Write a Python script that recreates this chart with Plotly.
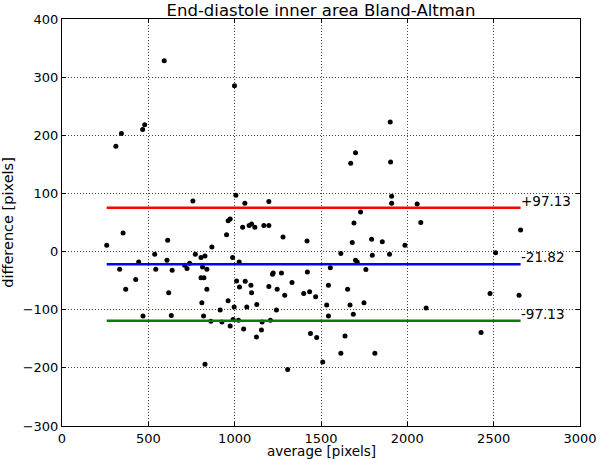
import plotly.graph_objects as go

# Averages (x) and differences (y)
avg = [592, 999, 344, 312, 479, 467, 1007, 1059, 1198, 758,
       1901, 1700, 1672, 1903, 1909, 1909, 2057, 1729, 1691, 2078,
       2656, 1681, 1793, 1855, 1986, 1615, 1797, 1897, 2511, 1700,
       1710, 1554, 1760, 1543, 1654, 2479, 2647, 1533, 1668, 1749,
       2109, 1543, 1687, 1639, 2427, 1615, 1812, 1510, 259, 354,
       334, 369, 427, 444, 469, 537, 543, 612, 608, 638,
       618, 633, 710, 724, 739, 772, 805, 828, 814, 839,
       805, 822, 839, 810, 820, 868, 862, 828, 916, 926,
       953, 962, 974, 962, 974, 988, 1026, 997, 991, 1011,
       1028, 1022, 1046, 1061, 1052, 1070, 1084, 1098, 1117, 1094,
       1098, 1128, 1126, 1155, 1159, 1169, 1198, 1198, 1207, 1219,
       1223, 1246, 1242, 1271, 1280, 1290, 1307, 1332, 1400, 1419,
       1421, 1434, 1439, 1475, 1469]
diff = [328, 285, 203, 181, 218, 210, 97, 83, 86, 87,
        223, 170, 152, 154, 95, 83, 82, 68, 49, 50,
        37, 15.5, 21, 17, 11, -3.5, -6.4, -4.7, -2, -15,
        -18, -28, -31, -58, -65, -72, -75, -92, -92, -88,
        -97, -111, -108, -145, -139, -175, -175, -190, 11, 32,
        -30.5, -65, -48, -18, -111, -4.7, -30.5, 19.5, -15, -32,
        -71, -110, -23.6, -29, -20, -4.7, -10, -7.5, -26.5, -30.5,
        -45, -45, -65, -88, -111, 8, -120, -194, -100.7, -121,
        29, 53, 56, -84.5, -128, -10, -18, -95.5, -117, -50.7,
        -61, -118, 42, -51, -133, -95.5, 45, 47.6, 42, -58,
        -71, -91, -147, -135, -121, 45, 45, -60, -118, -39,
        -37, -65, -100.7, -37, 25, -75, -203, -53, -72, 18,
        -35, -69, -141, -148, -77.6]

mean_diff = -21.82
limit = 97.13
x_ticks = [0, 500, 1000, 1500, 2000, 2500, 3000]
y_ticks = [-300, -200, -100, 0, 100, 200, 300, 400]

x0, x1 = min(avg), max(avg)
font = "DejaVu Sans"

fig = go.Figure()
fig.add_trace(go.Scatter(x=avg, y=diff, mode="markers",
                         marker=dict(color="black", size=5), showlegend=False))
lines = [(mean_diff + limit, "red", f"+{limit:.2f}"),
         (mean_diff, "blue", f"{mean_diff:.2f}"),
         (mean_diff - limit, "green", f"-{limit:.2f}")]
for yv, col, lab in lines:
    fig.add_trace(go.Scatter(x=[x0, x1], y=[yv, yv], mode="lines",
                             line=dict(color=col, width=2.5), showlegend=False))
    fig.add_annotation(x=x1, y=yv, text=lab, showarrow=False,
                       xanchor="left", yanchor="bottom", xshift=-2, yshift=-3,
                       font=dict(family=font, size=13.5, color="black"))

# x-axis title as a paper annotation so it can sit just below the tick labels
fig.add_annotation(x=0.5, y=0, xref="paper", yref="paper", text="average [pixels]",
                   showarrow=False, xanchor="center", yanchor="top", yshift=-15,
                   font=dict(family=font, size=13.5, color="black"))

axis_common = dict(showline=True, linecolor="black", linewidth=1, mirror="ticks",
                   ticks="inside", ticklen=4, tickcolor="black", automargin=False,
                   showgrid=True, gridcolor="#444", griddash="1px,2px", gridwidth=1,
                   zeroline=False, tickfont=dict(family=font, size=13, color="black"))
fig.update_xaxes(range=[0, 3000], tickvals=x_ticks, **axis_common)
fig.update_yaxes(range=[-300, 400], tickvals=y_ticks,
                 title=dict(text="difference [pixels]", standoff=8,
                            font=dict(family=font, size=14.5, color="black")),
                 **axis_common)
fig.update_layout(width=600, height=459, margin=dict(l=62, r=20, t=19, b=33),
                  paper_bgcolor="white", plot_bgcolor="white",
                  title=dict(text="End-diastole inner area Bland-Altman", x=0.535,
                             y=0.978, xanchor="center", yanchor="middle",
                             font=dict(family=font, size=16.5, color="black")))
fig.write_html("out.html", config={"displayModeBar": False},
               post_script="document.body.style.margin='0';document.body.style.overflow='hidden';")
